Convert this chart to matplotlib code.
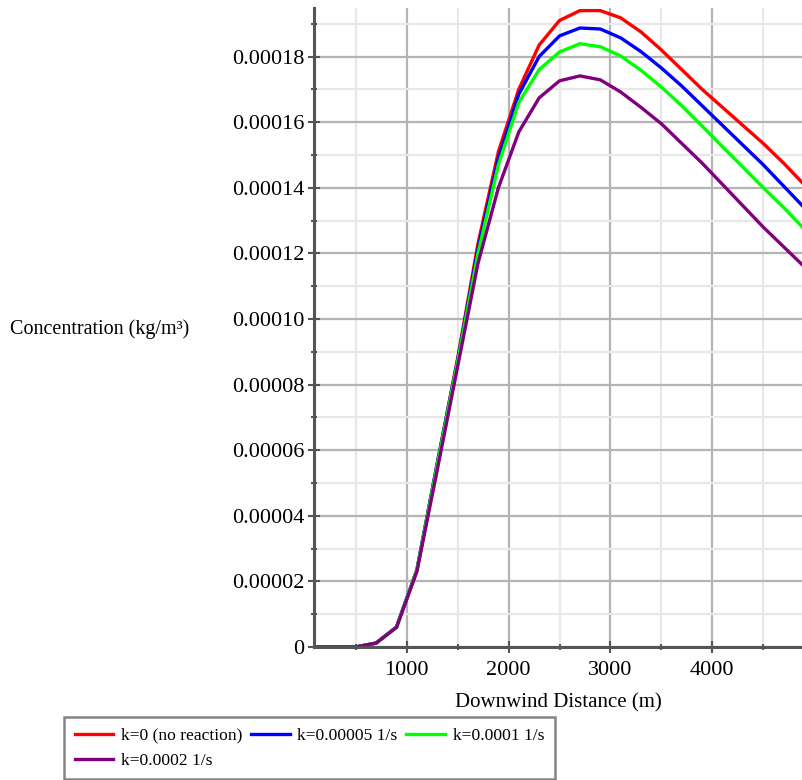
import matplotlib
matplotlib.use("Agg")
import matplotlib.pyplot as plt
from matplotlib.ticker import MultipleLocator

# downwind distance (m)
distance = [100, 300, 500, 700, 900, 1100, 1300, 1500, 1700, 1900, 2100, 2300, 2500,
            2700, 2900, 3100, 3300, 3500, 3700, 3900, 4100, 4300, 4500, 4700, 4900]

# concentration (kg/m^3) for each reaction rate
conc_k0 = [0, 0, 0, 1.2e-6, 6.1e-6, 2.35e-5, 5.6e-5, 8.8e-5, 1.23e-4, 1.51e-4, 1.70e-4,
           1.835e-4, 1.91e-4, 1.94e-4, 1.94e-4, 1.918e-4, 1.875e-4, 1.82e-4, 1.76e-4,
           1.70e-4, 1.645e-4, 1.59e-4, 1.535e-4, 1.475e-4, 1.41e-4]
conc_k5e5 = [0, 0, 0, 1.2e-6, 6.1e-6, 2.35e-5, 5.6e-5, 8.75e-5, 1.215e-4, 1.49e-4, 1.685e-4,
             1.80e-4, 1.863e-4, 1.887e-4, 1.884e-4, 1.857e-4, 1.815e-4, 1.765e-4, 1.71e-4,
             1.65e-4, 1.59e-4, 1.53e-4, 1.47e-4, 1.405e-4, 1.34e-4]
conc_k1e4 = [0, 0, 0, 1.2e-6, 6.1e-6, 2.35e-5, 5.55e-5, 8.7e-5, 1.20e-4, 1.47e-4, 1.66e-4,
             1.76e-4, 1.814e-4, 1.839e-4, 1.83e-4, 1.802e-4, 1.758e-4, 1.707e-4, 1.65e-4,
             1.588e-4, 1.525e-4, 1.463e-4, 1.40e-4, 1.34e-4, 1.275e-4]
conc_k2e4 = [0, 0, 0, 1.2e-6, 6.0e-6, 2.3e-5, 5.4e-5, 8.55e-5, 1.17e-4, 1.40e-4, 1.57e-4,
             1.674e-4, 1.726e-4, 1.741e-4, 1.729e-4, 1.692e-4, 1.645e-4, 1.595e-4, 1.535e-4,
             1.475e-4, 1.41e-4, 1.345e-4, 1.28e-4, 1.22e-4, 1.16e-4]

labels = ["k=0 (no reaction)", "k=0.00005 1/s", "k=0.0001 1/s", "k=0.0002 1/s"]
colors = ["#ff0000", "#0000ff", "#00ff00", "#800080"]

yticks = [0, 0.00002, 0.00004, 0.00006, 0.00008, 0.0001, 0.00012, 0.00014, 0.00016, 0.00018]
ytick_labels = ['0', '0.00002', '0.00004', '0.00006', '0.00008', '0.00010',
                '0.00012', '0.00014', '0.00016', '0.00018']
xticks = [1000, 2000, 3000, 4000]

plt.rcParams['font.family'] = ['Liberation Serif', 'DejaVu Serif']

fig = plt.figure(figsize=(8.02, 7.8), dpi=100)
# axes: left spine at x=314 px, y=0 at 647 px, top near 8 px
ax = fig.add_axes([314 / 802, 1 - 647 / 780, 1 - 314 / 802, (647 - 8) / 780])

lines = []
for y, lab, c in zip([conc_k0, conc_k5e5, conc_k1e4, conc_k2e4], labels, colors):
    ln, = ax.plot(distance, y, color=c, linewidth=2.4, label=lab)
    lines.append(ln)

ax.set_xlim(90, 4880)
ax.set_ylim(0, 0.0001948)

ax.set_xticks(xticks)
ax.xaxis.set_minor_locator(MultipleLocator(500))
ax.set_yticks(yticks)
ax.set_yticklabels(ytick_labels)
ax.yaxis.set_minor_locator(MultipleLocator(0.00001))

ax.grid(True, which='major', color='#b4b4b4', linewidth=1.6)
ax.grid(True, which='minor', color='#e8e8e8', linewidth=1.6)
ax.set_axisbelow(True)

for s in ['top', 'right']:
    ax.spines[s].set_visible(False)
for s in ['left', 'bottom']:
    ax.spines[s].set_color('#555555')
    ax.spines[s].set_linewidth(2.2)

ax.tick_params(which='major', direction='inout', length=8, width=1.5, color='#555555',
               labelsize=16, labelcolor='black')
ax.tick_params(which='minor', direction='inout', length=5, width=1.5, color='#555555')
ax.tick_params(axis='y', pad=3)
ax.tick_params(axis='x', pad=6)

ax.set_xlabel('Downwind Distance (m)', fontsize=15)
ax.xaxis.set_label_coords(0.5, -0.072)
ax.set_ylabel('Concentration (kg/m³)', fontsize=14.5, rotation=0, ha='left', va='center')
ax.yaxis.set_label_coords(-(314 - 10) / 488, 0.497)

# reorder so the legend reads row by row
order = [0, 3, 1, 2]
leg = fig.legend([lines[i] for i in order], [labels[i] for i in order],
                 ncol=3, loc='lower left', bbox_to_anchor=(64 / 802, 0.001),
                 fontsize=12.6, frameon=True, fancybox=False, handlelength=2.2,
                 handletextpad=0.45, columnspacing=0.5, borderpad=0.6,
                 labelspacing=0.5, borderaxespad=0.0)
leg.get_frame().set_edgecolor('#666666')
leg.get_frame().set_linewidth(1.8)

fig.savefig('out.png', dpi=100)
